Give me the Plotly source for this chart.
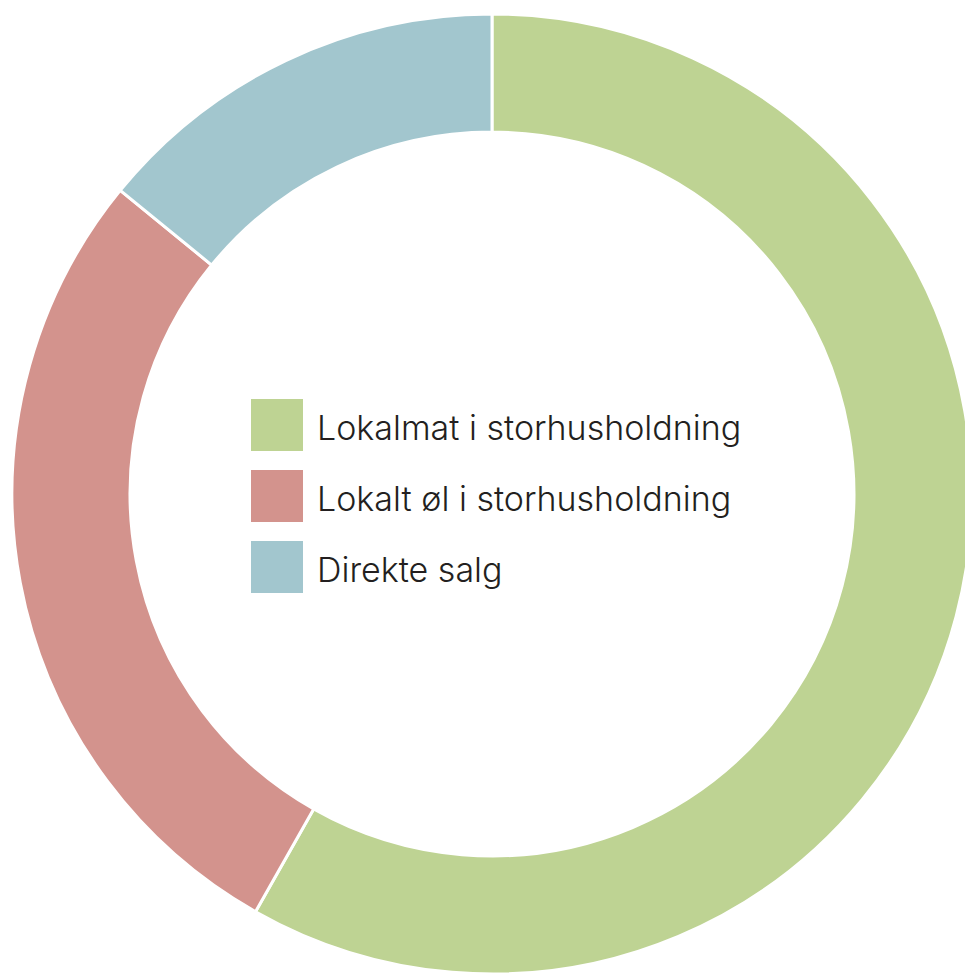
import plotly.graph_objects as go

labels = ["Lokalmat i storhusholdning", "Lokalt øl i storhusholdning", "Direkte salg"]
values = [58.2, 27.7, 14.1]
colors = ["#BED393", "#D3938D", "#A2C6CE"]

W, H = 984, 988
ML, MT = 12, 14
SIDE = 960

def px_x(px):
    return (px - ML) / SIDE

def px_y(py):
    return 1 - (py - MT) / SIDE

fig = go.Figure(go.Pie(
    labels=labels,
    values=values,
    hole=0.754,
    sort=False,
    direction="clockwise",
    rotation=0,
    textinfo="none",
    hoverinfo="label+percent",
    marker=dict(colors=colors, line=dict(color="white", width=3)),
    showlegend=False,
))

shapes = []
annotations = []
sq = 52
top0 = 399
step = 71
for i, (lab, col) in enumerate(zip(labels, colors)):
    t = top0 + i * step
    shapes.append(dict(type="rect", xref="paper", yref="paper",
                       x0=px_x(251), x1=px_x(251 + sq), y0=px_y(t + sq), y1=px_y(t),
                       fillcolor=col, line=dict(width=0)))
    annotations.append(dict(text=lab, xref="paper", yref="paper",
                            x=px_x(315), y=px_y(t + sq / 2 + 2), xanchor="left", yanchor="middle",
                            showarrow=False,
                            font=dict(family="Inter", size=34, weight=300, color="#231f20")))

fig.update_layout(
    width=W, height=H,
    autosize=False,
    margin=dict(l=ML, r=W - ML - SIDE, t=MT, b=H - MT - SIDE),
    paper_bgcolor="white",
    plot_bgcolor="white",
    shapes=shapes,
    annotations=annotations,
)

fig.write_html("out.html", config={"displayModeBar": False},
               post_script="document.body.style.margin='0';document.body.style.overflow='hidden';")
